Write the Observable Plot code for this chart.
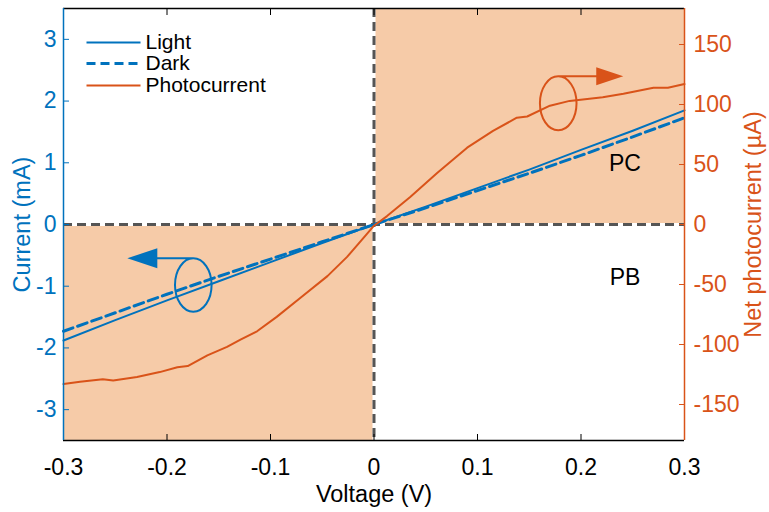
<!DOCTYPE html>
<html><head><meta charset="utf-8">
<script src="https://cdn.jsdelivr.net/npm/d3@7"></script>
<script src="https://cdn.jsdelivr.net/npm/@observablehq/plot@0.6"></script>
<style>body{margin:0;background:#fff}#chart{width:769px;height:512px}</style>
</head><body><div id="chart"></div>
<script>
// ---- data ----
const voltage      = [-0.3, -0.25, -0.2, -0.15, -0.1, -0.05, 0, 0.05, 0.1, 0.15, 0.2, 0.25, 0.3];
const lightCurrent = [-1.88, -1.55, -1.23, -0.92, -0.61, -0.30, 0, 0.29, 0.59, 0.89, 1.21, 1.52, 1.85]; // mA
const darkCurrent  = [-1.73, -1.43, -1.13, -0.84, -0.56, -0.28, 0, 0.27, 0.55, 0.83, 1.12, 1.42, 1.73]; // mA
const pcVoltage    = [-0.3, -0.284, -0.262, -0.252, -0.229, -0.207, -0.19, -0.18, -0.161, -0.142, -0.129, -0.113, -0.094, -0.071, -0.045, -0.026, -0.007, 0, 0.0126, 0.035, 0.061, 0.09, 0.115, 0.138, 0.148, 0.17, 0.189, 0.221, 0.241, 0.27, 0.284, 0.3];
const photocurrent = [-133, -131, -129, -130, -127, -123, -119, -118, -109, -102, -96, -89, -77, -61, -43, -27, -8, -1, 7, 23, 43, 64, 78, 89, 90, 99, 103, 106, 109, 114, 114, 117]; // µA
const xTicks     = [-0.3, -0.2, -0.1, 0, 0.1, 0.2, 0.3];
const leftTicks  = [-3, -2, -1, 0, 1, 2, 3];
const rightTicks = [-150, -100, -50, 0, 50, 100, 150];
const xDomain = [-0.3, 0.3];
const leftDomain = [-3.5, 3.5];     // mA
const rightDomain = [-180, 180];    // µA
const seriesNames = ["Light", "Dark", "Photocurrent"];
const regionLabels = ["PC", "PB"];
const regionX = [0.2425, 0.2425];
const regionY = [0.98, -0.86];      // mA
const ellipseX = [-0.1746, 0.178];
const ellipseY = [-0.98, 101];      // first in mA (left axis), second in µA (right axis)

const BLUE = "#0072BD", ORANGE = "#D95319", SHADE = "#F6CBA8";
const k = leftDomain[1] / rightDomain[1]; // µA -> left-axis units

function ellipse(ctx, rx, ry) {
  const c = 0.5523;
  ctx.moveTo(rx, 0);
  ctx.bezierCurveTo(rx, ry * c, rx * c, ry, 0, ry);
  ctx.bezierCurveTo(-rx * c, ry, -rx, ry * c, -rx, 0);
  ctx.bezierCurveTo(-rx, -ry * c, -rx * c, -ry, 0, -ry);
  ctx.bezierCurveTo(rx * c, -ry, rx, -ry * c, rx, 0);
  ctx.closePath();
}
const ringLeft  = {draw(ctx) { ellipse(ctx, 18.3, 26.7); ctx.moveTo(0, -26.7); ctx.lineTo(-37, -26.7); }};
const headLeft  = {draw(ctx) { ctx.moveTo(-66, -26.7); ctx.lineTo(-36, -36.7); ctx.lineTo(-36, -16.7); ctx.closePath(); }};
const ringRight = {draw(ctx) { ellipse(ctx, 18.3, 27); ctx.moveTo(0, -27); ctx.lineTo(40, -27); }};
const headRight = {draw(ctx) { ctx.moveTo(65, -27); ctx.lineTo(38, -36); ctx.lineTo(38, -18); ctx.closePath(); }};
const legendLine = {draw(ctx) { ctx.moveTo(-27, 0); ctx.lineTo(27, 0); }};

const quadrants = [
  {x1: 0, x2: xDomain[1], y1: 0, y2: leftDomain[1]},
  {x1: xDomain[0], x2: 0, y1: leftDomain[0], y2: 0}
];
const fmtX = d => d === 0 ? "0" : d.toFixed(1);

const legendRows = [
  {name: seriesNames[0], stroke: BLUE, dash: null, w: 2, dy: 34},
  {name: seriesNames[1], stroke: BLUE, dash: "9,5", w: 3, dy: 55},
  {name: seriesNames[2], stroke: ORANGE, dash: null, w: 2, dy: 77}
];

const chart = Plot.plot({
  width: 769, height: 512,
  marginLeft: 63, marginRight: 85, marginTop: 8, marginBottom: 72,
  x: {domain: xDomain},
  y: {domain: leftDomain},
  style: {fontFamily: "'Liberation Sans', Arial, sans-serif", fontSize: "23px", background: "white"},
  marks: [
    Plot.rect(quadrants, {x1: "x1", x2: "x2", y1: "y1", y2: "y2", fill: SHADE}),
    Plot.ruleX([0], {stroke: "white", strokeWidth: 3}),
    Plot.ruleY([0], {stroke: "white", strokeWidth: 3}),
    Plot.ruleX([0], {stroke: "#555", strokeWidth: 3, strokeDasharray: "9,5"}),
    Plot.ruleY([0], {stroke: "#555", strokeWidth: 3, strokeDasharray: "9,5"}),
    Plot.line(voltage, {x: voltage, y: darkCurrent, stroke: BLUE, strokeWidth: 3, strokeDasharray: "10,5"}),
    Plot.line(voltage, {x: voltage, y: lightCurrent, stroke: BLUE, strokeWidth: 2}),
    Plot.line(pcVoltage, {x: pcVoltage, y: photocurrent.map(d => d * k), stroke: ORANGE, strokeWidth: 2}),
    // annotations
    Plot.dot([0], {x: [ellipseX[0]], y: [ellipseY[0]], symbol: ringLeft, stroke: BLUE, strokeWidth: 2, fill: "none"}),
    Plot.dot([0], {x: [ellipseX[0]], y: [ellipseY[0]], symbol: headLeft, fill: BLUE, stroke: "none"}),
    Plot.dot([0], {x: [ellipseX[1]], y: [ellipseY[1] * k], symbol: ringRight, stroke: ORANGE, strokeWidth: 2, fill: "none"}),
    Plot.dot([0], {x: [ellipseX[1]], y: [ellipseY[1] * k], symbol: headRight, fill: ORANGE, stroke: "none"}),
    Plot.text(regionLabels, {x: regionX, y: regionY, text: d => d, fill: "black", fontSize: 23}),
    // axes
    Plot.axisX(xTicks, {anchor: "bottom", tickSize: -6, tickPadding: 24, tickFormat: fmtX, stroke: "black", fill: "black", label: null}),
    Plot.axisX(xTicks, {anchor: "top", tickSize: -6, tickFormat: () => "", stroke: "black", label: null}),
    Plot.axisY(leftTicks, {anchor: "left", tickSize: -6, tickPadding: 13, tickFormat: d => String(d), stroke: BLUE, fill: BLUE, label: null}),
    Plot.axisY(rightTicks.map(d => d * k), {anchor: "right", tickSize: -6, tickPadding: 15, tickFormat: d => String(Math.round(d / k)), stroke: ORANGE, fill: ORANGE, label: null}),
    // frame
    Plot.ruleY([leftDomain[1]], {stroke: "black", strokeWidth: 1.5}),
    Plot.ruleY([leftDomain[0]], {stroke: "black", strokeWidth: 1.5}),
    Plot.ruleX([xDomain[0]], {stroke: BLUE, strokeWidth: 1.5}),
    Plot.ruleX([xDomain[1]], {stroke: ORANGE, strokeWidth: 1.5}),
    // axis titles
    Plot.text(["Voltage (V)"], {frameAnchor: "bottom", dy: 54, lineAnchor: "middle", text: d => d, fill: "black", fontSize: 23.5}),
    Plot.text(["Current (mA)"], {frameAnchor: "left", dx: -41, rotate: -90, textAnchor: "middle", lineAnchor: "middle", text: d => d, fill: BLUE, fontSize: 23.5}),
    Plot.text(["Net photocurrent (µA)"], {frameAnchor: "right", dx: 69, rotate: -90, textAnchor: "middle", lineAnchor: "middle", text: d => d, fill: ORANGE, fontSize: 23.5}),
    // legend
    ...legendRows.map(r => Plot.dot([r.name], {frameAnchor: "top-left", dx: 50, dy: r.dy, symbol: legendLine, stroke: r.stroke, strokeWidth: r.w, strokeDasharray: r.dash, fill: "none"})),
    ...legendRows.map(r => Plot.text([r.name], {frameAnchor: "top-left", dx: 82, dy: r.dy, text: d => d, textAnchor: "start", lineAnchor: "middle", fill: "black", fontSize: 21}))
  ]
});
document.getElementById("chart").append(chart);
</script>
</body></html>
